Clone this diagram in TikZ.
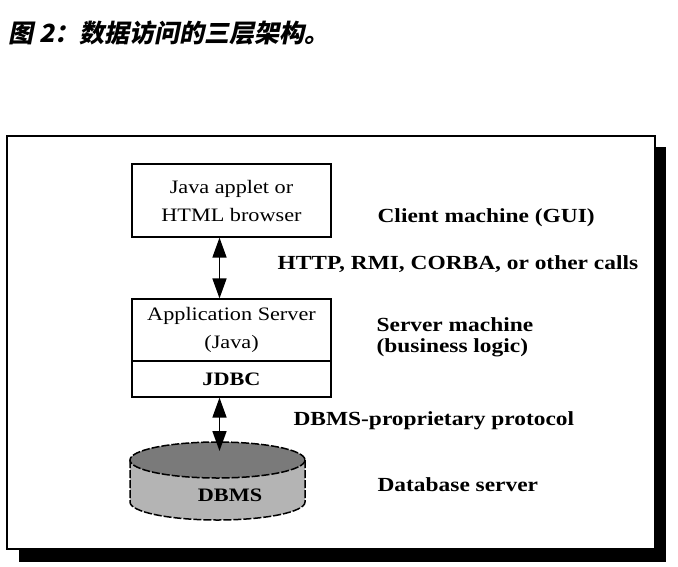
\documentclass[tikz,border=0pt]{standalone}
\usepackage{fontspec}
\setmainfont{Liberation Serif}[FakeStretch=1.17]
\newfontfamily\cjk{Noto Sans CJK SC}[FakeSlant=0.2]
\usetikzlibrary{arrows.meta}

\begin{document}
\begin{tikzpicture}[x=1pt, y=-1pt, line width=1.2pt,
      every node/.append style={inner sep=0pt, font=\fontsize{19}{28}\selectfont},
      tier/.style={draw, minimum width=199pt, align=center},
      call/.style={{Triangle[length=20pt,width=14pt]}-{Triangle[length=20pt,width=14pt]}, line width=1.6pt}]
    \tikzstyle{note} = [anchor=west, align=left, font=\fontsize{20}{21}\selectfont\bfseries]
    \definecolor{disktop}{RGB}{122,122,122}
    \definecolor{diskside}{RGB}{180,180,180}
    \useasboundingbox (0,0) rectangle (678,566);
    \node (title) [anchor=west, font=\cjk\bfseries\fontsize{25}{25}\selectfont] at (8,33) {图 2：数据访问的三层架构。};
    % frame with shadow
    \fill (19,147) rectangle (666,562);
    \draw [fill=white, line width=1.5pt] (7,136) rectangle (655,549);
    % tiers
    \node (browser) [tier, minimum height=73pt] at (231.5,200.5) {Java applet or\\HTML browser};
    \node (appserver) [tier, minimum height=62pt] at (231.5,330) {Application Server\\(Java)};
    \node (jdbc) [tier, minimum height=36pt] at (231.5,379) {\bfseries JDBC};
    % database
    \filldraw [fill=diskside, line width=1.5pt, dash pattern=on 8pt off 2pt]
      (130,460) -- (130,502) arc [start angle=180, end angle=0, x radius=87.5, y radius=18] -- (305,460);
    \filldraw [fill=disktop, line width=1.5pt, dash pattern=on 8pt off 2pt]
      (217.5,460) ellipse [x radius=87.5, y radius=18];
    \node (dbms) [font=\fontsize{19}{19}\selectfont\bfseries] at (230,495) {DBMS};
    \coordinate (dbtop) at (219.5,451);
    % calls
    \draw [call] (browser.south -| dbtop) -- (appserver.north -| dbtop);
    \draw [call] (jdbc.south -| dbtop) -- (dbtop);
    % labels
    \node (client) [note] at (377,218) {Client machine (GUI)};
    \node (calls) [note] at (277,264) {HTTP, RMI, CORBA, or other calls};
    \node (server) [note] at (376,337.5) {Server machine\\(business logic)};
    \node (protocol) [note] at (293,421) {DBMS-proprietary protocol};
    \node (dbserver) [note] at (377,485) {Database server};
\end{tikzpicture}
\end{document}
